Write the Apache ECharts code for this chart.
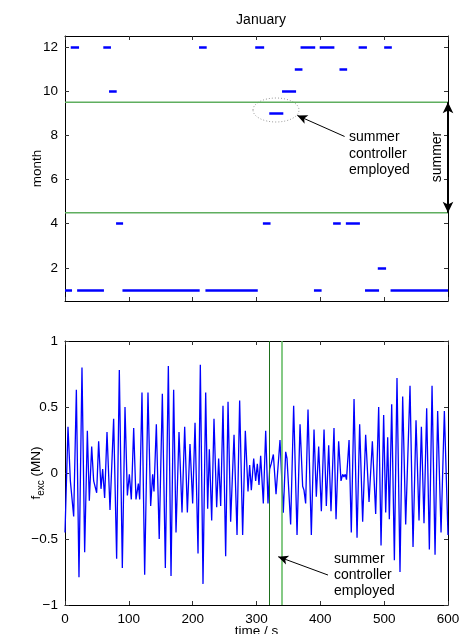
<!DOCTYPE html>
<html>
<head>
<meta charset="utf-8">
<script src="https://cdn.jsdelivr.net/npm/echarts@6/dist/echarts.min.js"></script>
<style>
  html, body { margin: 0; padding: 0; background: #fff; }
  #chart { width: 460px; height: 634px; }
</style>
</head>
<body>
<div id="chart"></div>
<script>
// top panel: which month's controller is active, as time spans per month level
var monthLevels = [12, 11, 10, 9, 4, 2, 1];
var monthSegments = [
  [[9, 22], [60, 72], [210, 222], [298, 312], [369, 392], [399, 422], [460, 473], [500, 512]],
  [[360, 372], [430, 442]],
  [[69, 81], [340, 362]],
  [[320, 342]],
  [[80, 91], [310, 322], [420, 432], [440, 462]],
  [[490, 503]],
  [[0, 11], [19, 61], [90, 211], [220, 302], [390, 402], [470, 492], [510, 600]]
];
var summerBounds = [9.5, 4.5];
var monthTicks = [2, 4, 6, 8, 10, 12];
var switchTimes = [320, 340];

// bottom panel: excitation force, peaks and troughs
var timeS = [0, 4.7, 8.4, 11, 13.6, 17.8, 21.9, 26.6, 30.8, 35, 38.1, 41.8, 44.9, 47.5, 49.6, 52.7,
  56.4, 59, 62.1, 65.8, 70.5, 76.2, 80.9, 85.1, 89.8, 94, 97.7, 100.8, 103.9, 107.6, 111.2, 114.9,
  117, 120.6, 124.8, 130, 134.2, 137.3, 139.4, 143.1, 147.6, 152.5, 157.2, 161.9, 166.1, 170.2,
  173.9, 178.6, 183.3, 187.5, 191.7, 195.8, 200, 203.7, 208.4, 212, 216.2, 220.4, 223.5, 226.1,
  229.8, 233.4, 237.6, 240.7, 243.9, 247.5, 251.7, 255.4, 259.5, 264.8, 269.5, 273.6, 278.3,
  282.5, 286.7, 289.3, 291.9, 295.6, 298.7, 301.3, 303.9, 306.5, 310.7, 314.4, 318, 320.6, 323,
  326.4, 330.6, 336.8, 342, 345.7, 347.8, 349.9, 353.5, 358.2, 363.5, 368.2, 372.3, 374.4, 377,
  380.7, 385.9, 390.1, 393.7, 397.4, 401.6, 405.8, 409.4, 413.1, 416.7, 421.4, 424.6, 428.7,
  432.4, 435, 437, 439, 441, 445, 448.5, 452.8, 457.5, 461.6, 466.3, 471, 476.3, 481.5, 486.7,
  491.4, 495.1, 499.2, 502.4, 505.5, 508.1, 511.8, 516, 520.1, 524.8, 529, 533.7, 540.5, 545.2,
  549.9, 554.6, 558.3, 562.4, 566.6, 570.8, 575, 579.7, 583.8, 589.1, 594.3, 600];
var fexc = [-0.45, 0.35, -0.06, -0.07, -0.33, 0.63, -0.79, 0.80, -0.60, 0.32, -0.21, 0.20, -0.06,
  -0.06, -0.15, 0.24, -0.12, 0.03, -0.19, 0.31, -0.28, 0.41, -0.65, 0.78, -0.72, 0.50, -0.17,
  -0.01, -0.20, 0.34, -0.20, -0.08, -0.20, 0.61, -0.77, 0.61, -0.25, -0.01, -0.14, 0.37, -0.50,
  0.60, -0.72, 0.81, -0.78, 0.63, -0.45, 0.31, -0.30, 0.35, -0.30, 0.22, -0.23, 0.38, -0.61, 0.82,
  -0.84, 0.61, -0.27, 0.18, -0.36, 0.41, -0.26, 0.11, -0.25, 0.51, -0.63, 0.54, -0.37, 0.29,
  -0.47, 0.55, -0.47, 0.32, -0.14, 0.06, -0.13, 0.11, -0.06, 0.07, -0.09, 0.13, -0.23, 0.32,
  -0.23, 0.03, 0.07, 0.14, -0.16, 0.25, -0.30, 0.16, 0.11, 0.12, -0.39, 0.51, -0.47, 0.37, -0.10,
  -0.13, -0.23, 0.48, -0.47, 0.33, -0.18, 0.20, -0.29, 0.33, -0.25, 0.21, -0.29, 0.34, -0.35,
  0.24, -0.06, -0.01, -0.03, -0.01, -0.05, 0.25, -0.45, 0.56, -0.49, 0.37, -0.37, 0.29, -0.22,
  0.24, -0.31, 0.50, -0.55, 0.44, -0.30, 0.27, -0.35, 0.52, -0.66, 0.72, -0.75, 0.58, -0.39,
  0.66, -0.56, 0.40, -0.36, 0.35, -0.38, 0.49, -0.58, 0.66, -0.62, 0.47, -0.45, 0.47, -0.47];

var FONT = 'Liberation Sans';
var chart = echarts.init(document.getElementById('chart'));

function boxAxis(gridIndex, pos, extra) {
  var ax = {
    gridIndex: gridIndex,
    position: pos,
    axisLine: { show: true, onZero: false, lineStyle: { color: '#000', width: 1 } },
    axisTick: { show: true, inside: true, length: 4, lineStyle: { color: '#333' } },
    axisLabel: { show: false, color: '#000', fontFamily: FONT, fontSize: 13.5, margin: 7 },
    splitLine: { show: false }
  };
  return Object.assign(ax, extra);
}

var segData = [];
monthSegments.forEach(function (segs, i) {
  segs.forEach(function (s) {
    segData.push({ coords: [[s[0], monthLevels[i]], [s[1], monthLevels[i]]] });
  });
});

var signal = timeS.map(function (t, i) { return [t, fexc[i]]; });

var monthAxis = { type: 'value', min: 0.5, max: 12.5,
  axisTick: { show: true, inside: true, length: 4, lineStyle: { color: '#333' }, customValues: monthTicks } };

var option = {
  animation: false,
  title: {
    text: 'January', left: 256, top: 8, textAlign: 'center',
    textStyle: { fontFamily: FONT, fontSize: 14, fontWeight: 'normal', color: '#000' }
  },
  grid: [
    { left: 65, top: 36, width: 383, height: 265, outerBoundsMode: 'none', containLabel: false },
    { left: 65, top: 341, width: 383, height: 264, outerBoundsMode: 'none', containLabel: false }
  ],
  xAxis: [
    boxAxis(0, 'bottom', { type: 'value', min: 0, max: 600, interval: 100 }),
    boxAxis(0, 'top', { type: 'value', min: 0, max: 600, interval: 100 }),
    boxAxis(1, 'bottom', { type: 'value', min: 0, max: 600, interval: 100,
      axisLabel: { show: true, color: '#000', fontFamily: FONT, fontSize: 13.5, margin: 7 },
      name: 'time / s', nameLocation: 'middle', nameGap: 19, nameMoveOverlap: false,
      nameTextStyle: { fontFamily: FONT, fontSize: 13.5, color: '#000' } }),
    boxAxis(1, 'top', { type: 'value', min: 0, max: 600, interval: 100 })
  ],
  yAxis: [
    boxAxis(0, 'left', Object.assign({}, monthAxis, {
      axisLabel: { show: true, color: '#000', fontFamily: FONT, fontSize: 13.5, margin: 7, customValues: monthTicks },
      name: 'month', nameLocation: 'middle', nameGap: 21, nameMoveOverlap: false,
      nameTextStyle: { fontFamily: FONT, fontSize: 13.5, color: '#000' } })),
    boxAxis(0, 'right', Object.assign({}, monthAxis)),
    boxAxis(1, 'left', { type: 'value', min: -1, max: 1, interval: 0.5,
      axisLabel: { show: true, color: '#000', fontFamily: FONT, fontSize: 13.5, margin: 7,
        formatter: function (v) { return String(v).replace('-', '\u2212'); } },
      name: '{f|f}{sub|exc}{f| (MN)}', nameLocation: 'middle', nameGap: 19, nameMoveOverlap: false,
      nameTextStyle: { fontFamily: FONT, fontSize: 13.5, color: '#000',
        rich: { f: { fontFamily: FONT, fontSize: 13.5, color: '#000' },
                sub: { fontFamily: FONT, fontSize: 10, color: '#000', verticalAlign: 'bottom', padding: [10, 0, 0, 0] } } } }),
    boxAxis(1, 'right', { type: 'value', min: -1, max: 1, interval: 0.5 })
  ],
  series: [
    {
      type: 'lines', coordinateSystem: 'cartesian2d', xAxisIndex: 0, yAxisIndex: 0,
      silent: true, data: segData,
      lineStyle: { color: '#0000ff', width: 2.5, opacity: 1 }
    },
    {
      type: 'line', xAxisIndex: 0, yAxisIndex: 0, silent: true, symbol: 'none',
      data: [[0, summerBounds[0]], [600, summerBounds[0]]],
      lineStyle: { color: '#5fae5f', width: 1.5 },
      markLine: {
        silent: true, symbol: ['none', 'none'], label: { show: false },
        data: [
          [{ coord: [600, summerBounds[0]], symbol: 'arrow', symbolSize: [8, 11] },
           { coord: [600, summerBounds[1]], symbol: 'arrow', symbolSize: [8, 11],
             lineStyle: { color: '#000', width: 2, type: 'solid' } }],
          [{ coord: [438, 7.95] },
           { coord: [364, 8.9], symbol: 'arrow', symbolSize: [7, 10],
             lineStyle: { color: '#000', width: 1, type: 'solid' } }]
        ]
      }
    },
    {
      type: 'line', xAxisIndex: 0, yAxisIndex: 0, silent: true, symbol: 'none',
      data: [[0, summerBounds[1]], [600, summerBounds[1]]],
      lineStyle: { color: '#5fae5f', width: 1.5 }
    },
    {
      type: 'line', xAxisIndex: 2, yAxisIndex: 2, silent: true, symbol: 'none',
      data: signal,
      lineStyle: { color: '#0000ff', width: 1.3 },
      markLine: {
        silent: true, symbol: ['none', 'none'], label: { show: false },
        data: [
          { xAxis: switchTimes[0], lineStyle: { color: '#1d6e1d', width: 1, type: 'solid' } },
          { xAxis: switchTimes[1], lineStyle: { color: '#5cb85c', width: 1.5, type: 'solid' } },
          [{ coord: [412, -0.773] },
           { coord: [334, -0.634], symbol: 'arrow', symbolSize: [7, 10],
             lineStyle: { color: '#000', width: 1, type: 'solid' } }]
        ]
      }
    }
  ],
  graphic: [
    { type: 'ellipse', silent: true, shape: { cx: 276, cy: 110, rx: 23, ry: 12 },
      style: { fill: 'none', stroke: '#9a9a9a', lineWidth: 1, lineDash: [1, 2] } },
    { type: 'text', silent: true, x: 349, y: 129,
      style: { text: 'summer\ncontroller\nemployed', fontFamily: FONT, fontSize: 14, lineHeight: 16.5,
        fill: '#000', textVerticalAlign: 'top' } },
    { type: 'text', silent: true, x: 437, y: 157, rotation: Math.PI / 2,
      style: { text: 'summer', fontFamily: FONT, fontSize: 14, fill: '#000',
        textAlign: 'center', textVerticalAlign: 'middle' } },
    { type: 'text', silent: true, x: 334, y: 551,
      style: { text: 'summer\ncontroller\nemployed', fontFamily: FONT, fontSize: 14, lineHeight: 16,
        fill: '#000', textVerticalAlign: 'top' } }
  ]
};

chart.setOption(option);
</script>
</body>
</html>
